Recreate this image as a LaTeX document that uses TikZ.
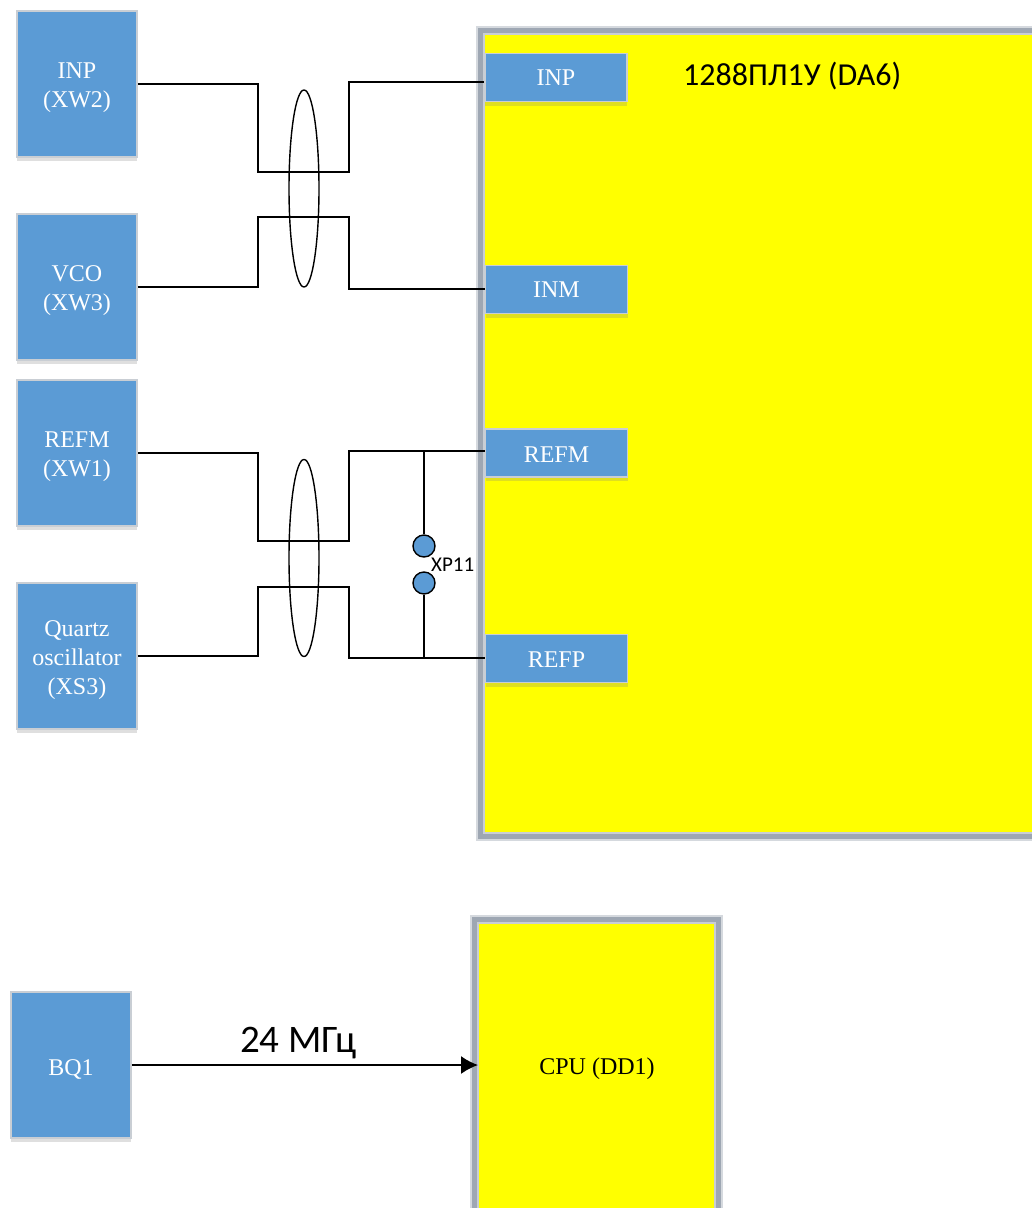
\documentclass[tikz,border=0pt]{standalone}
\usepackage{fontspec}
\setmainfont{Liberation Serif}
\newfontfamily\labelfont{Carlito}
\usetikzlibrary{shadows}
\usetikzlibrary{shapes.geometric}
\usetikzlibrary{arrows.meta}
\definecolor{pinblue}{HTML}{5B9BD5}
\definecolor{rimgray}{HTML}{9EA7B3}
\definecolor{rimsoft}{HTML}{D5D9DE}
\definecolor{rimlight}{HTML}{C9CED4}
\definecolor{chipyellow}{HTML}{FFFF00}
% taller first line, so that the text sits a little below the middle of its box
\newcommand{\srcstrut}{\rule{0pt}{24pt}}
\newcommand{\pinstrut}{\rule{0pt}{18pt}}

\begin{document}
\begin{tikzpicture}[
            x=1pt, y=-1pt,
            wire/.style={line width=1.6pt, draw=black},
            block/.style={draw=rimlight, line width=1.5pt, fill=pinblue, text=white, align=center, font=\fontsize{24}{29}\selectfont,
                inner sep=0pt, drop shadow={shadow xshift=0pt, shadow yshift=-4pt, opacity=.25}},
            source/.style={block, minimum width=120pt, minimum height=146pt},
            pin/.style={block, minimum width=142pt, minimum height=48pt},
            chip/.style={draw=rimlight, line width=2pt, fill=chipyellow, anchor=north west, inner sep=0pt, outer sep=0pt,
                preaction={draw=rimsoft, line width=16pt}, preaction={draw=rimgray, line width=12pt}},
            twist/.style={draw=black, line width=1.4pt, ellipse, inner sep=0pt, minimum width=30pt, minimum height=197pt},
            testpt/.style={circle, draw=black, line width=1.4pt, fill=pinblue, inner sep=0pt, minimum size=22pt},
        ]
            \clip (0,0) rectangle (1032,1208);

            % the two yellow chips
            \node[chip, minimum width=700pt, minimum height=799pt] (da6) at (484,34) {};
            \node[font=\labelfont\fontsize{32}{36}\selectfont, anchor=west, inner sep=0pt] (da6name) at (683,76) {1288ПЛ1У (DA6)};
            \node[chip, minimum width=236.5pt, minimum height=400pt] (dd1) at (478,923) {};
            \node[font=\fontsize{24}{28}\selectfont] (dd1name) at (597,1069) {CPU (DD1)};

            % sources on the left
            \node[source] (inp) at (77,84) {\srcstrut INP\\(XW2)};
            \node[source] (vco) at (77,287) {\srcstrut VCO\\(XW3)};
            \node[source] (refm) at (77,453) {\srcstrut REFM\\(XW1)};
            \node[source] (xs3) at (77,656) {\srcstrut Quartz\\oscillator\\(XS3)};
            \node[source] (bq1) at (71,1065) {\srcstrut BQ1};

            % pins of the big chip
            \node[pin] (pinp) at (556,77.5) {INP};
            \node[pin] (pinm) at (556.5,289.5) {INM};
            \node[pin] (prefm) at (556.5,453) {\pinstrut REFM};
            \node[pin] (prefp) at (556.5,658.5) {\pinstrut REFP};

            % one row per wire: source, pin, height of the jog, height at the pin
            \foreach \src/\dst/\ymid/\yend in {inp/pinp/172/82, vco/pinm/217/289, refm/prefm/541/451, xs3/prefp/587/658}{
                \draw[wire] (\src.east) -| (258,\ymid) -- (349,\ymid) -- (349,\yend) -- (\dst.west |- 0,\yend);
            }

            % the twisted pairs
            \node[twist] (pairtop) at (304,188.5) {};
            \node[twist] (pairbot) at (304,558) {};

            % XP11 jumper
            \coordinate (xpm) at (424,451);
            \coordinate (xpp) at (424,658);
            \node[testpt] (xpa) at (424,546) {};
            \node[testpt] (xpb) at (424,583) {};
            \draw[wire] (xpm) -- (xpa);
            \draw[wire] (xpb) -- (xpp);
            \node[font=\labelfont\fontsize{21}{23}\selectfont, anchor=west, inner sep=0pt] (xplbl) at (431,565) {XP11};

            % clock line
            \draw[wire, -{Latex[length=17pt, width=18pt]}] (bq1.east) -- (dd1.west |- 0,1065);
            \node[font=\labelfont\fontsize{39}{42}\selectfont, inner sep=0pt] (clk) at (298.5,1043) {24 МГц};
        \end{tikzpicture}
\end{document}
